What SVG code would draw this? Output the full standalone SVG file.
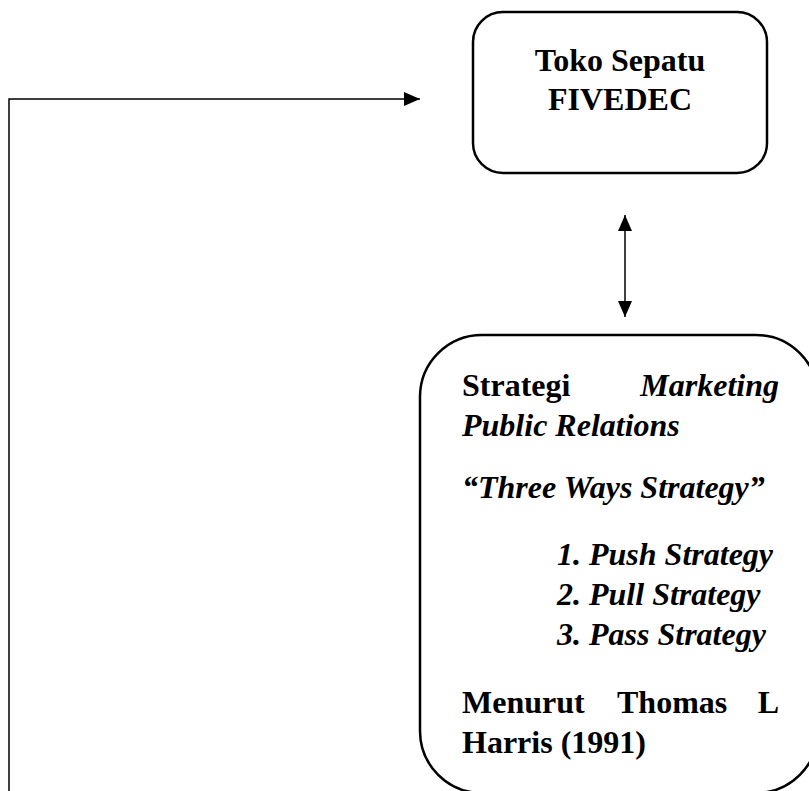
<svg xmlns="http://www.w3.org/2000/svg" width="809" height="791" viewBox="0 0 809 791">
<defs>
<style>
.box{fill:#fff;stroke:#000;stroke-width:2.5}
.ln{fill:none;stroke:#000;stroke-width:1.5}
.t{font-family:"Liberation Serif","Times New Roman",serif;font-size:32px;fill:#000;font-weight:bold}
.i{font-style:italic}
</style>
<marker id="ah2" viewBox="0 0 16 14" refX="16" refY="7" markerWidth="16" markerHeight="14" markerUnits="userSpaceOnUse" orient="auto-start-reverse">
<path d="M0,0 L16,7 L0,14 Z" fill="#000"/>
</marker>
</defs>
<rect width="809" height="791" fill="#fff"/>
<g id="connectors">
<path class="ln" d="M9,791 L9,99 L420,99" marker-end="url(#ah2)"/>
<path class="ln" d="M625,215 L625,317" marker-start="url(#ah2)" marker-end="url(#ah2)"/>
</g>
<g id="toko">
<rect class="box" x="473" y="12" width="294" height="161" rx="30"/>
<text class="t" x="620" y="71" text-anchor="middle">Toko Sepatu</text>
<text class="t" x="620" y="110" text-anchor="middle">FIVEDEC</text>
</g>
<g id="strategi">
<rect class="box" x="420" y="335" width="398" height="458" rx="62"/>
<text class="t" x="462" y="396">Strategi</text>
<text class="t i" x="779" y="396" text-anchor="end">Marketing</text>
<text class="t i" x="462" y="436">Public Relations</text>
<text class="t i" x="462" y="498">“Three Ways Strategy”</text>
<text class="t i" x="557" y="565">1. Push Strategy</text>
<text class="t i" x="557" y="605">2. Pull Strategy</text>
<text class="t i" x="557" y="645">3. Pass Strategy</text>
<text class="t" x="462" y="713">Menurut</text>
<text class="t" x="617" y="713">Thomas</text>
<text class="t" x="779" y="713" text-anchor="end">L</text>
<text class="t" x="462" y="753">Harris (1991)</text>
</g>
</svg>
